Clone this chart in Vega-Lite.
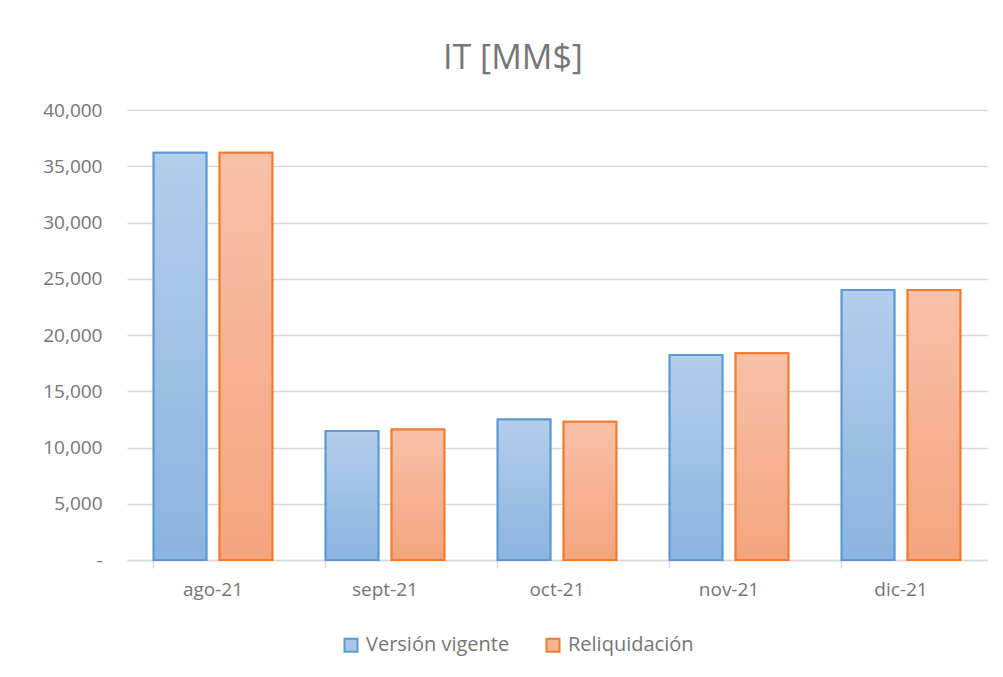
{
  "$schema": "https://vega.github.io/schema/vega-lite/v6.json",
  "width": 860,
  "height": 450,
  "autosize": {"type": "none"},
  "padding": {"left": 127, "top": 110, "right": 16, "bottom": 117},
  "background": "white",
  "title": {
    "text": "IT [MM$]",
    "fontSize": 34,
    "font": "Open Sans",
    "fontWeight": "normal",
    "color": "#767676",
    "anchor": "middle",
    "dx": -44,
    "offset": 25
  },
  "data": {
    "values": [
      {"mes": "ago-21", "serie": "Versión vigente", "valor": 36200},
      {"mes": "ago-21", "serie": "Reliquidación", "valor": 36200},
      {"mes": "sept-21", "serie": "Versión vigente", "valor": 11470},
      {"mes": "sept-21", "serie": "Reliquidación", "valor": 11600},
      {"mes": "oct-21", "serie": "Versión vigente", "valor": 12500},
      {"mes": "oct-21", "serie": "Reliquidación", "valor": 12290},
      {"mes": "nov-21", "serie": "Versión vigente", "valor": 18220},
      {"mes": "nov-21", "serie": "Reliquidación", "valor": 18370},
      {"mes": "dic-21", "serie": "Versión vigente", "valor": 24000},
      {"mes": "dic-21", "serie": "Reliquidación", "valor": 24000}
    ]
  },
  "encoding": {
    "x": {
      "field": "mes",
      "type": "nominal",
      "sort": ["ago-21", "sept-21", "oct-21", "nov-21", "dic-21"],
      "scale": {"paddingInner": 0.31, "paddingOuter": 0.155},
      "axis": {
        "title": null,
        "labelAngle": 0,
        "labelFont": "Open Sans",
        "labelFontSize": 19,
        "labelColor": "#767676",
        "labelPadding": 12,
        "domainColor": "#d9d9d9",
        "domainWidth": 1.5,
        "tickColor": "#d9d9d9",
        "tickWidth": 1.5,
        "tickSize": 8,
        "bandPosition": 0,
        "grid": false
      }
    },
    "xOffset": {
      "field": "serie",
      "type": "nominal",
      "sort": ["Versión vigente", "Reliquidación"],
      "scale": {"paddingInner": 0.2, "paddingOuter": 0}
    },
    "y": {
      "field": "valor",
      "type": "quantitative",
      "scale": {"domain": [0, 40000], "nice": false},
      "axis": {
        "title": null,
        "values": [0, 5000, 10000, 15000, 20000, 25000, 30000, 35000, 40000],
        "labelExpr": "datum.value === 0 ? '-' : format(datum.value, ',')",
        "labelFont": "Open Sans",
        "labelFontSize": 19,
        "labelColor": "#767676",
        "labelPadding": 25,
        "domain": false,
        "ticks": false,
        "gridColor": "#d9d9d9",
        "gridWidth": 1.5
      }
    }
  },
  "layer": [
    {
      "mark": {"type": "bar", "strokeWidth": 2},
      "encoding": {
        "fill": {
          "field": "serie",
          "type": "nominal",
          "scale": {"domain": ["Versión vigente", "Reliquidación"], "range": ["#a9c6e8", "#f6b394"]},
          "legend": {
            "title": null,
            "orient": "none",
            "direction": "horizontal",
            "legendX": 214,
            "legendY": 525,
            "symbolType": "square",
            "symbolSize": 170,
            "symbolStrokeWidth": 2,
            "labelFont": "Open Sans",
            "labelFontSize": 20,
            "labelColor": "#767676",
            "labelOffset": 5,
            "columnPadding": 32
          }
        },
        "stroke": {
          "field": "serie",
          "type": "nominal",
          "scale": {"domain": ["Versión vigente", "Reliquidación"], "range": ["#5b9bd5", "#ed7d31"]},
          "legend": null
        }
      }
    },
    {
      "mark": {"type": "bar", "strokeWidth": 2},
      "encoding": {
        "fill": {
          "condition": {
            "test": "datum.serie === 'Versión vigente'",
            "value": {"gradient": "linear", "x1": 0, "y1": 0, "x2": 0, "y2": 1,
              "stops": [{"offset": 0, "color": "#b4ceeb"}, {"offset": 1, "color": "#8cb3e1"}]}
          },
          "value": {"gradient": "linear", "x1": 0, "y1": 0, "x2": 0, "y2": 1,
            "stops": [{"offset": 0, "color": "#f8c1a8"}, {"offset": 1, "color": "#f4a47e"}]}
        },
        "stroke": {
          "condition": {"test": "datum.serie === 'Versión vigente'", "value": "#5b9bd5"},
          "value": "#ed7d31"
        }
      }
    }
  ],
  "config": {
    "view": {"stroke": null}
  }
}
